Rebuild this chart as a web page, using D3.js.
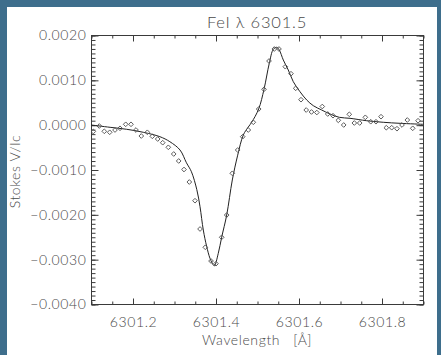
<!DOCTYPE html>
<html><head><meta charset="utf-8">
<script src="https://cdn.jsdelivr.net/npm/d3@7"></script>
<style>html,body{margin:0;padding:0;background:#3e6e8c;overflow:hidden} svg{display:block}</style>
</head><body><svg id="c" width="441" height="355"></svg>
<script>
// ---- data ----
const titleText = "FeI \u03bb 6301.5";
const xTitle = "Wavelength\u00a0\u00a0\u00a0[\u00c5]";
const yTitle = "Stokes V/Ic";

const xDomain = [6301.1, 6301.9];
const yDomain = [-0.0040, 0.0020];
const xMajorTicks = [6301.2, 6301.4, 6301.6, 6301.8];
const yMajorTicks = [-0.0040, -0.0030, -0.0020, -0.0010, 0.0000, 0.0010, 0.0020];

// observed profile (diamonds)
const lambdaObs = [6301.1055, 6301.1200, 6301.1320, 6301.1451, 6301.1578, 6301.1699, 6301.1836, 6301.1964,
  6301.2084, 6301.2212, 6301.2357, 6301.2477, 6301.2607, 6301.2728, 6301.2863, 6301.2993, 6301.3113,
  6301.3241, 6301.3369, 6301.3506, 6301.3627, 6301.3754, 6301.3892, 6301.4012, 6301.4149, 6301.4270,
  6301.4405, 6301.4535, 6301.4655, 6301.4790, 6301.4911, 6301.5041, 6301.5169, 6301.5289, 6301.5417,
  6301.5530, 6301.5682, 6301.5819, 6301.5933, 6301.6060, 6301.6186, 6301.6313, 6301.6441, 6301.6573,
  6301.6704, 6301.6831, 6301.6959, 6301.7089, 6301.7224, 6301.7345, 6301.7475, 6301.7610, 6301.7740,
  6301.7867, 6301.7988, 6301.8116, 6301.8246, 6301.8373, 6301.8494, 6301.8622, 6301.8752, 6301.8880];
const stokesObs = [-0.000152, -0.000030, -0.000148, -0.000170, -0.000119, -0.000081, 0.000008, 0.000008,
  -0.000119, -0.000253, -0.000170, -0.000260, -0.000320, -0.000402, -0.000505, -0.000654, -0.000810,
  -0.001000, -0.001279, -0.001696, -0.002327, -0.002735, -0.003041, -0.003101, -0.002512, -0.002015,
  -0.001085, -0.000565, -0.000268, -0.000119, 0.000053, 0.000349, 0.000789, 0.001420, 0.001688,
  0.001688, 0.001293, 0.001137, 0.000811, 0.000557, 0.000327, 0.000283, 0.000271, 0.000405,
  0.000238, 0.000200, 0.000097, -0.000007, 0.000231, 0.000037, 0.000037, 0.000164, 0.000066,
  0.000066, 0.000178, -0.000068, -0.000068, -0.000090, -0.000007, 0.000104, -0.000081, 0.000088];

// fitted profile (solid line)
const lambdaFit = [6301.100, 6301.146, 6301.186, 6301.226, 6301.266, 6301.290, 6301.3145, 6301.330,
  6301.342, 6301.355, 6301.3627, 6301.3706, 6301.3788, 6301.3867, 6301.3947, 6301.3975, 6301.4067,
  6301.4149, 6301.427, 6301.4405, 6301.4535, 6301.467, 6301.479, 6301.4872, 6301.504, 6301.5169,
  6301.5296, 6301.5393, 6301.5475, 6301.5537, 6301.5634, 6301.5754, 6301.5875, 6301.6036, 6301.6198,
  6301.6357, 6301.6559, 6301.6759, 6301.6983, 6301.7241, 6301.7643, 6301.8043, 6301.8446, 6301.900];
const stokesFit = [-0.000007, -0.000059, -0.000103, -0.000170, -0.000268, -0.000380, -0.000565, -0.000850,
  -0.001050, -0.001450, -0.001830, -0.002350, -0.002720, -0.002980, -0.003130, -0.003150, -0.002870,
  -0.002510, -0.002015, -0.001234, -0.000680, -0.000230, -0.000052, 0.000053, 0.000349, 0.000789,
  0.001369, 0.001681, 0.001726, 0.001665, 0.001442, 0.001219, 0.000958, 0.000735, 0.000550,
  0.000423, 0.000327, 0.000238, 0.000164, 0.000142, 0.000088, 0.000053, 0.000030, 0.000008];

// ---- drawing ----
const W = 441, H = 355;
const svg = d3.select("#c");
const font = "Lato, 'Open Sans', 'DejaVu Sans', sans-serif";
const textColor = "#4a4a4a";
const axisColor = "#3a3a3a";

svg.append("rect").attr("x", 0).attr("y", 0).attr("width", W).attr("height", H).attr("fill", "#3e6e8c");
svg.append("defs").append("clipPath").attr("id", "panelClip")
  .append("rect").attr("x", 7).attr("y", 7).attr("width", 430).attr("height", 348);
svg.append("rect").attr("x", 7).attr("y", 7).attr("width", 430).attr("height", 348).attr("fill", "#ffffff");

const m = {left: 91, right: 423, top: 35, bottom: 304};
const x = d3.scaleLinear().domain(xDomain).range([m.left, m.right]);
const y = d3.scaleLinear().domain(yDomain).range([m.bottom, m.top]);

const xMinor = x.ticks(16);
const yMinor = y.ticks(60);

function styleAxis(g) {
  g.select(".domain").remove();
  g.selectAll(".tick line").attr("stroke", axisColor).attr("stroke-width", 1);
  g.selectAll(".tick text").attr("fill", textColor).attr("font-family", font)
    .attr("font-size", 14).attr("font-weight", 300).attr("letter-spacing", 0.6);
}

// minor ticks
const gx1 = svg.append("g").attr("transform", `translate(0.5,${m.bottom + 0.5})`)
  .call(d3.axisBottom(x).tickValues(xMinor).tickSizeInner(-3).tickSizeOuter(0).tickFormat(""));
const gx2 = svg.append("g").attr("transform", `translate(0.5,${m.top + 0.5})`)
  .call(d3.axisTop(x).tickValues(xMinor).tickSizeInner(-3).tickSizeOuter(0).tickFormat(""));
const gy1 = svg.append("g").attr("transform", `translate(${m.left + 0.5},0.5)`)
  .call(d3.axisLeft(y).tickValues(yMinor).tickSizeInner(-4).tickSizeOuter(0).tickFormat(""));
const gy2 = svg.append("g").attr("transform", `translate(${m.right + 0.5},0.5)`)
  .call(d3.axisRight(y).tickValues(yMinor).tickSizeInner(-4).tickSizeOuter(0).tickFormat(""));
[gx1, gx2, gy1, gy2].forEach(styleAxis);

// major ticks with labels
const gxb = svg.append("g").attr("transform", `translate(0.5,${m.bottom + 0.5})`)
  .call(d3.axisBottom(x).tickValues(xMajorTicks).tickSizeInner(-6).tickSizeOuter(0)
    .tickPadding(13).tickFormat(d3.format(".1f")));
const gxt = svg.append("g").attr("transform", `translate(0.5,${m.top + 0.5})`)
  .call(d3.axisTop(x).tickValues(xMajorTicks).tickSizeInner(-6).tickSizeOuter(0).tickFormat(""));
const gyl = svg.append("g").attr("transform", `translate(${m.left + 0.5},0.5)`)
  .call(d3.axisLeft(y).tickValues(yMajorTicks).tickSizeInner(-7).tickSizeOuter(0)
    .tickPadding(5).tickFormat(d3.format(".4f")));
const gyr = svg.append("g").attr("transform", `translate(${m.right + 0.5},0.5)`)
  .call(d3.axisRight(y).tickValues(yMajorTicks).tickSizeInner(-7).tickSizeOuter(0).tickFormat(""));
[gxb, gxt, gyl, gyr].forEach(styleAxis);

// frame
svg.append("rect").attr("x", m.left + 0.5).attr("y", m.top + 0.5)
  .attr("width", m.right - m.left).attr("height", m.bottom - m.top)
  .attr("fill", "none").attr("stroke", axisColor).attr("stroke-width", 1);

// plot clip
svg.select("defs").append("clipPath").attr("id", "plotClip")
  .append("rect").attr("x", m.left).attr("y", m.top).attr("width", m.right - m.left).attr("height", m.bottom - m.top);

const plot = svg.append("g").attr("clip-path", "url(#plotClip)");

// fitted line
const fit = lambdaFit.map((l, i) => [l, stokesFit[i]]);
plot.append("path").datum(fit)
  .attr("fill", "none").attr("stroke", "#222").attr("stroke-width", 1)
  .attr("d", d3.line().x(d => x(d[0])).y(d => y(d[1])).curve(d3.curveCatmullRom.alpha(0.5)));

// observed diamonds
const obs = lambdaObs.map((l, i) => [l, stokesObs[i]]);
const diamond = d3.symbol().type(d3.symbolSquare).size(11);
plot.selectAll("path.obs").data(obs).join("path").attr("class", "obs")
  .attr("transform", d => `translate(${x(d[0])},${y(d[1])}) rotate(45)`)
  .attr("d", diamond)
  .attr("fill", "none").attr("stroke", "#555").attr("stroke-width", 0.9);

// titles
svg.append("text").attr("x", (m.left + m.right) / 2).attr("y", 28)
  .attr("text-anchor", "middle").attr("fill", textColor).attr("font-family", font)
  .attr("font-size", 16.5).attr("font-weight", 300).attr("letter-spacing", 0.8).text(titleText);

svg.append("text").attr("x", (m.left + m.right) / 2).attr("y", 345)
  .attr("text-anchor", "middle").attr("fill", textColor).attr("font-family", font)
  .attr("font-size", 14).attr("font-weight", 300).attr("letter-spacing", 0.6).text(xTitle);

svg.append("g").attr("clip-path", "url(#panelClip)")
  .append("text").attr("transform", `translate(20,${(m.top + m.bottom) / 2 + 2}) rotate(-90)`)
  .attr("text-anchor", "middle").attr("fill", textColor).attr("font-family", font)
  .attr("font-size", 14).attr("font-weight", 300).attr("letter-spacing", 0.6).text(yTitle);
</script></body></html>
